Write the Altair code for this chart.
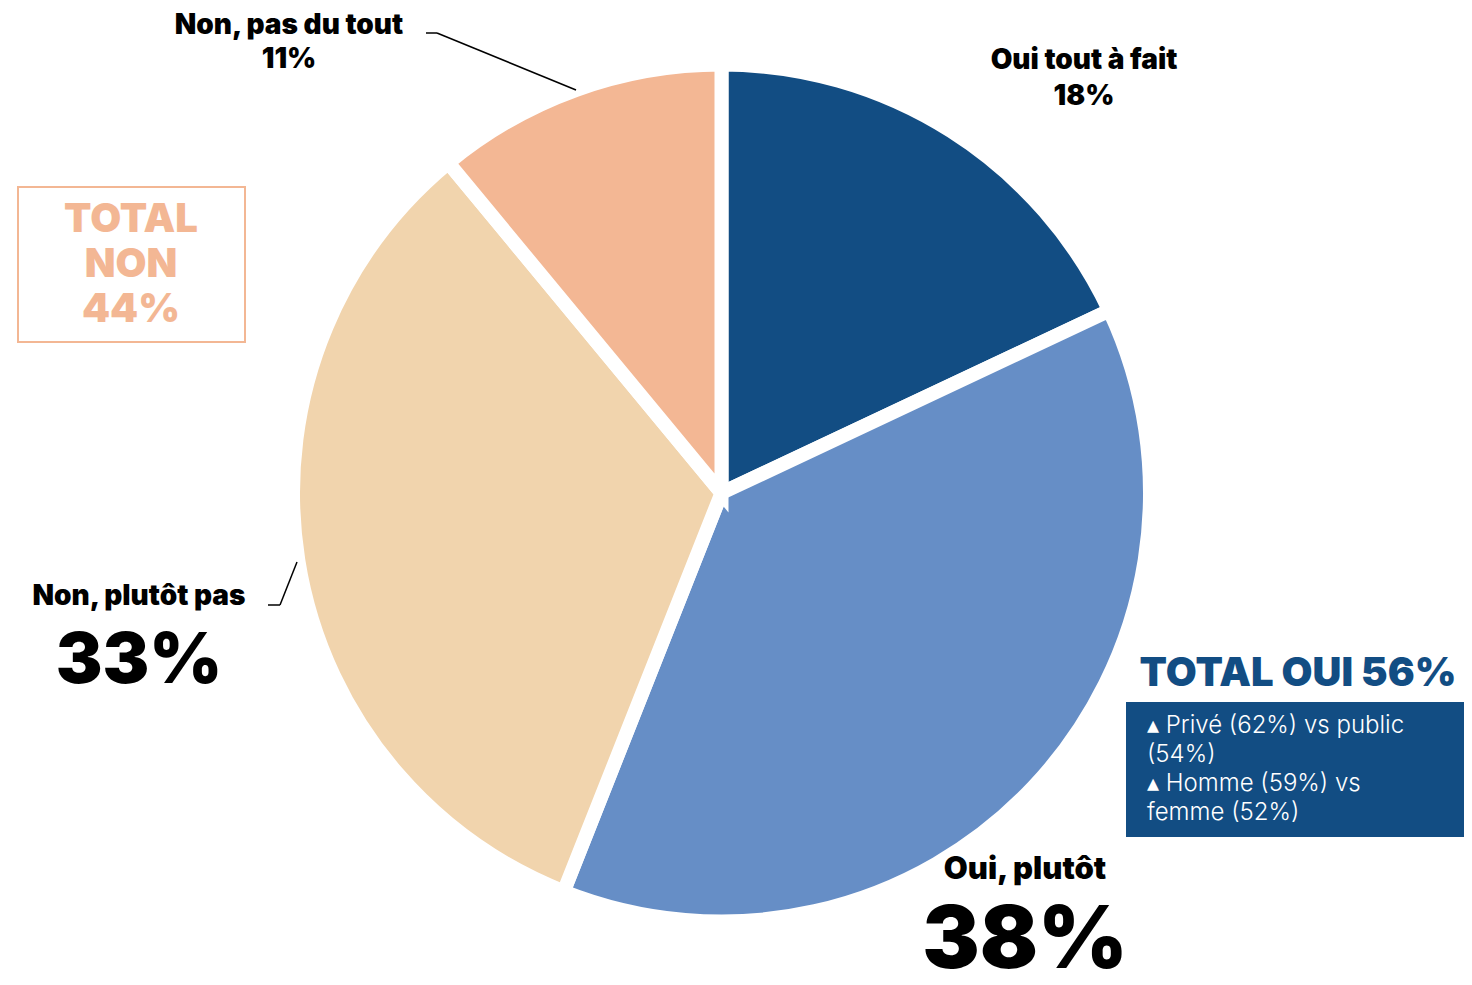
import altair as alt
import pandas as pd

# ---- data ----
categories = ["Oui tout à fait", "Oui, plutôt", "Non, plutôt pas", "Non, pas du tout"]
values = [18, 38, 33, 11]
colors = ["#124D83", "#668EC6", "#F1D4AD", "#F3B794"]
total_oui = 56
total_non = 44
details = ["▴ Privé (62%) vs public", "(54%)", "▴ Homme (59%) vs", "femme (52%)"]

df = pd.DataFrame({"cat": categories, "val": values, "order": list(range(len(values)))})
one = pd.DataFrame({"k": [0]})

OFF = 8  # page margin
def X(v): return v - OFF
def Y(v): return v - OFF

FONT = "Inter"
BLACK = "#000000"
DARK = "#124D83"
SALMON = "#F3B794"

pie = alt.Chart(df).mark_arc(outerRadius=428.5, stroke="white", strokeWidth=14).encode(
    theta=alt.Theta("val:Q", stack=True),
    order=alt.Order("order:Q"),
    color=alt.Color("cat:N", scale=alt.Scale(domain=categories, range=colors), legend=None),
    x=alt.value(X(721.5)),
    y=alt.value(Y(493)),
)

def txt(text, x, y, size, color=BLACK, weight=900, align="center", font=FONT):
    return alt.Chart(one).mark_text(
        fontSize=size, fontWeight=weight, font=font, color=color, align=align, baseline="middle"
    ).encode(x=alt.value(X(x)), y=alt.value(Y(y)), text=alt.value(text))

def rule(x1, y1, x2, y2):
    return alt.Chart(one).mark_rule(color=BLACK, strokeWidth=1.5).encode(
        x=alt.value(X(x1)), y=alt.value(Y(y1)), x2=alt.value(X(x2)), y2=alt.value(Y(y2))
    )

def rect(x1, y1, x2, y2, fill, stroke=None, sw=0):
    kw = dict(fill=fill)
    if stroke:
        kw.update(stroke=stroke, strokeWidth=sw)
    return alt.Chart(one).mark_rect(**kw).encode(
        x=alt.value(X(x1)), y=alt.value(Y(y1)), x2=alt.value(X(x2)), y2=alt.value(Y(y2))
    )

layers = [pie]

# Oui tout à fait
layers += [txt(categories[0], 1084, 61, 28), txt(f"{values[0]}%", 1084, 97, 28)]
# Non, pas du tout
layers += [txt(categories[3], 289, 26, 28), txt(f"{values[3]}%", 289, 60, 28)]
layers += [rule(426, 33, 437, 33), rule(437, 33, 576, 90)]
# Non, plutôt pas
layers += [txt(categories[2], 139, 597, 28), txt(f"{values[2]}%", 139, 662, 70)]
layers += [rule(268, 605, 280, 605), rule(280, 605, 297, 562)]
# Oui, plutôt
layers += [txt(categories[1], 1025, 870, 31), txt(f"{values[1]}%", 1025, 942, 86)]

# TOTAL NON box
layers += [rect(18, 187, 245, 342, "white", SALMON, 2)]
layers += [txt("TOTAL", 131, 220, 40, SALMON), txt("NON", 131, 265, 40, SALMON),
           txt(f"{total_non}%", 131, 310, 40, SALMON)]

# TOTAL OUI
layers += [txt(f"TOTAL OUI {total_oui}%", 1298, 674, 40, DARK)]
layers += [rect(1126, 702, 1471, 837, DARK)]
for i, line in enumerate(details):
    layers += [txt(line, 1147, 726 + 29 * i, 24, "white", 300, "left")]

chart = alt.layer(*layers).properties(
    width=1456, height=969,
    autosize=alt.AutoSizeParams(type="none"),
    padding=0,
).configure_view(stroke=None)

chart.save("out.html", embed_options={"renderer": "svg", "actions": False})
